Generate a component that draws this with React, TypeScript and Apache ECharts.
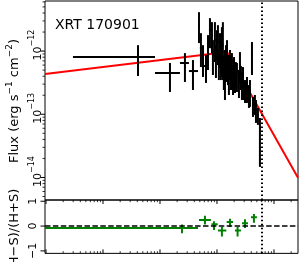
import React, { useEffect, useRef } from "react";
import * as echarts from "echarts";

const FONT = "DejaVu Sans";

// axis ranges
const TIME_MIN = 96;
const TIME_MAX = 2.64e6;
const FLUX_MIN = 4.4e-15;
const FLUX_MAX = 6.2e-12;
const HR_MIN = -1.1;
const HR_MAX = 1.05;

// flux values are stored in units of 1e-12 erg s^-1 cm^-2
const FLUX_UNIT = 1e-12;

const fluxTime = [
  4110, 14960, 27400, 37900,
  48300, 52300, 56800, 64100, 69500, 75300, 81600, 84900, 92000, 95900,
  100000, 104000, 108000, 113000, 117000, 122000, 127000, 132000, 138000, 144000,
  150000, 156000, 162000, 169000, 176000, 183000, 191000, 199000, 207000, 215000,
  224000, 243000, 253000, 263000, 274000, 286000, 310000, 336000, 364000, 379000,
  411000, 428000, 463000, 483000, 523000, 567000,
];
const fluxTimeLo = [
  297, 8170, 22400, 32200,
  46400, 50200, 54500, 57000, 67000, 72300, 78300, 82000, 88500, 93000,
  96000, 100000, 104000, 109000, 113000, 118000, 123000, 128000, 133000, 139000,
  145000, 151000, 157000, 163000, 170000, 177000, 185000, 192000, 200000, 208000,
  216000, 234000, 244000, 254000, 265000, 276000, 298000, 323000, 350000, 365000,
  396000, 412000, 446000, 465000, 504000, 546000,
];
const fluxTimeHi = [
  8170, 22400, 32200, 46400,
  50200, 54500, 59000, 72000, 72000, 78300, 84900, 88000, 95900, 99000,
  104000, 108000, 112000, 117000, 121000, 126000, 131000, 136000, 143000, 149000,
  155000, 161000, 167000, 175000, 182000, 189000, 197000, 206000, 214000, 222000,
  232000, 252000, 262000, 272000, 283000, 296000, 322000, 349000, 378000, 393000,
  426000, 444000, 480000, 501000, 542000, 588000,
];
const fluxVal = [
  0.804, 0.45, 0.647, 0.483,
  2.57, 1.11, 0.776, 0.58, 1.04, 2.14, 1.79, 0.865, 1.49, 0.776,
  1.34, 1.39, 0.647, 1.11, 0.804, 1.11, 1.24, 0.501, 0.466, 0.721,
  0.865, 0.559, 0.418, 0.67, 0.466, 0.559, 0.375, 0.539, 0.375, 0.45,
  0.418, 0.324, 0.601, 0.389, 0.313, 0.348, 0.242, 0.261, 0.202, 0.225,
  0.865, 0.14, 0.151, 0.117, 0.0977, 0.0609,
];
const fluxHi = [
  1.24, 0.647, 0.93, 0.721,
  4.13, 1.92, 1.24, 0.865, 1.79, 3.32, 2.87, 1.49, 2.87, 1.24,
  2.14, 2.57, 1.04, 1.92, 1.49, 2.39, 2.87, 0.865, 1.04, 1.24,
  1.49, 0.865, 0.721, 1.04, 0.776, 0.93, 0.601, 0.804, 0.539, 0.67,
  0.647, 0.501, 0.964, 0.58, 0.466, 0.559, 0.348, 0.389, 0.29, 0.348,
  1.39, 0.188, 0.202, 0.168, 0.126, 0.0875,
];
const fluxLo = [
  0.403, 0.225, 0.324, 0.242,
  1.34, 0.559, 0.389, 0.313, 0.501, 1.11, 0.93, 0.418, 0.67, 0.375,
  0.721, 0.601, 0.348, 0.539, 0.348, 0.389, 0.348, 0.242, 0.168, 0.324,
  0.418, 0.29, 0.202, 0.348, 0.242, 0.27, 0.202, 0.313, 0.217, 0.242,
  0.225, 0.181, 0.324, 0.242, 0.168, 0.168, 0.151, 0.151, 0.126, 0.131,
  0.418, 0.0908, 0.0977, 0.073, 0.0679, 0.0147,
];

// broken power-law model (time, flux)
const modelTime = [96, 150000, 2640000];
const modelFlux = [4.34e-13, 9.64e-13, 9.9e-15];

// end of the window (dotted line)
const windowEnd = 615000;

// hardness ratio
const hrTime = [24300, 61500, 88500, 122000, 169000, 230000, 310000, 445000];
const hrTimeLo = [90, 48300, 80000, 104000, 148000, 207000, 275000, 395000];
const hrTimeHi = [46400, 78300, 103000, 146000, 191000, 263000, 350000, 502000];
const hrVal = [-0.08, 0.24, 0.07, -0.18, 0.16, -0.18, 0.11, 0.36];
const hrLo = [-0.29, 0.06, -0.16, -0.42, -0.04, -0.42, -0.08, 0.13];
const hrHi = [0.06, 0.42, 0.19, -0.04, 0.29, -0.04, 0.27, 0.49];

const hrTickValues = [-1, 0, 1];
const panelLabel = "XRT 170901";

function logTicks(lo: number, hi: number): number[][] {
  const out: number[][] = [];
  for (let e = Math.floor(Math.log10(lo)); e <= Math.ceil(Math.log10(hi)); e++) {
    for (let k = 1; k <= 9; k++) {
      const v = k * Math.pow(10, e);
      if (v >= lo && v <= hi) out.push([v, k === 1 ? 1 : 0]);
    }
  }
  return out;
}

const errRender = (color: string, width: number) => (params: any, api: any) => {
  const p = api.coord([api.value(0), api.value(1)]);
  const xl = api.coord([api.value(2), api.value(1)]);
  const xh = api.coord([api.value(3), api.value(1)]);
  const yl = api.coord([api.value(0), api.value(4)]);
  const yh = api.coord([api.value(0), api.value(5)]);
  return {
    type: "group",
    children: [
      { type: "line", shape: { x1: xl[0], y1: p[1], x2: xh[0], y2: p[1] }, style: { stroke: color, lineWidth: width } },
      { type: "line", shape: { x1: p[0], y1: yl[1], x2: p[0], y2: yh[1] }, style: { stroke: color, lineWidth: width } },
    ],
  };
};

function buildOption(): any {
  const fluxData = fluxTime.map((t, i) => [
    t, fluxVal[i] * FLUX_UNIT, fluxTimeLo[i], fluxTimeHi[i], fluxLo[i] * FLUX_UNIT, fluxHi[i] * FLUX_UNIT,
  ]);
  const hrData = hrTime.map((t, i) => [t, hrVal[i], hrTimeLo[i], hrTimeHi[i], hrLo[i], hrHi[i]]);
  const modelData = modelTime.map((t, i) => [t, modelFlux[i]]);
  const yTicksTop = logTicks(FLUX_MIN, FLUX_MAX).map(([v, m]) => [TIME_MIN, v, m]);
  const xTicksBottom = logTicks(TIME_MIN, TIME_MAX).map(([v, m]) => [v, 0, m]);
  const yTicksBottom = hrTickValues.map((v) => [TIME_MIN, v, 1]);

  const hidden = { show: false };
  return {
    animation: false,
    grid: [
      { left: 45, top: 1, width: 253, height: 199, show: true, borderColor: "#000", borderWidth: 1 },
      { left: 45, top: 200, width: 253, height: 61, show: true, borderColor: "#000", borderWidth: 1 },
    ],
    xAxis: [
      { type: "log", gridIndex: 0, min: TIME_MIN, max: TIME_MAX, axisLine: hidden, axisTick: hidden, axisLabel: hidden, splitLine: hidden },
      { type: "log", gridIndex: 1, min: TIME_MIN, max: TIME_MAX, axisLine: hidden, axisTick: hidden, axisLabel: hidden, splitLine: hidden },
    ],
    yAxis: [
      {
        type: "log", gridIndex: 0, min: FLUX_MIN, max: FLUX_MAX,
        axisLine: hidden, axisTick: hidden, splitLine: hidden,
        axisLabel: {
          rotate: 90, margin: 2.5, showMinLabel: false, showMaxLabel: false,
          padding: [0, 0, 0, 12],
          formatter: (v: number) => {
            const e = Math.round(Math.log10(v));
            return "{b|10}{s|\u2212" + Math.abs(e) + "}";
          },
          rich: {
            b: { fontFamily: FONT, fontSize: 11, color: "#000", lineHeight: 10, verticalAlign: "bottom" },
            s: { fontFamily: FONT, fontSize: 8, color: "#000", lineHeight: 15, verticalAlign: "top" },
          },
        },
      },
      {
        type: "value", gridIndex: 1, min: HR_MIN, max: HR_MAX,
        axisLine: hidden, axisTick: hidden, splitLine: hidden,
        axisLabel: {
          rotate: 90, margin: 5.5, showMinLabel: false, showMaxLabel: false,
          formatter: (v: number) => {
            if (Math.abs(v - Math.round(v)) > 1e-9) return "";
            const r = Math.round(v);
            return "{b|" + (r < 0 ? "\u2212" + -r : String(r)) + "}";
          },
          rich: { b: { fontFamily: FONT, fontSize: 11, color: "#000", lineHeight: 14 } },
        },
      },
    ],
    graphic: [
      {
        type: "text", x: 55, y: 24,
        style: { text: panelLabel, fontFamily: FONT, fontSize: 14, fill: "#000", align: "left", verticalAlign: "middle" },
      },
      {
        type: "text", x: 12.25, y: 101, rotation: Math.PI / 2,
        style: {
          text: "{b|Flux (erg s}{s|\u22121}{b| cm}{s|\u22122}{b|)}",
          align: "center", verticalAlign: "middle",
          rich: {
            b: { fontFamily: FONT, fontSize: 13, fill: "#000", lineHeight: 13, verticalAlign: "bottom" },
            s: { fontFamily: FONT, fontSize: 9, fill: "#000", lineHeight: 15.5, verticalAlign: "top" },
          },
        },
      },
      {
        type: "text", x: 13.5, y: 230, rotation: Math.PI / 2,
        style: { text: "(H\u2212S)/(H+S)", fontFamily: FONT, fontSize: 13, fill: "#000", align: "center", verticalAlign: "middle" },
      },
    ],
    series: [
      {
        type: "line", xAxisIndex: 0, yAxisIndex: 0, data: modelData, showSymbol: false, symbol: "none",
        lineStyle: { color: "#ff0000", width: 2 }, z: 1, silent: true,
        markLine: {
          silent: true, symbol: "none", label: { show: false },
          lineStyle: { color: "#000", type: [1.5, 2.5], width: 2 },
          data: [{ xAxis: windowEnd }],
        },
      },
      {
        type: "custom", xAxisIndex: 0, yAxisIndex: 0, data: fluxData, encode: { x: 0, y: 1 },
        renderItem: errRender("#000", 2), clip: true, z: 2, silent: true,
      },
      {
        type: "line", xAxisIndex: 1, yAxisIndex: 1, data: [], z: 1, silent: true,
        markLine: {
          silent: true, symbol: "none", label: { show: false },
          data: [
            { yAxis: 0, lineStyle: { color: "#000", type: [5.5, 2.4], width: 1.6 } },
            { xAxis: windowEnd, lineStyle: { color: "#000", type: [1.5, 2.5], width: 2 } },
          ],
        },
      },
      {
        type: "custom", xAxisIndex: 1, yAxisIndex: 1, data: hrData, encode: { x: 0, y: 1 },
        renderItem: errRender("#008000", 2), clip: true, z: 3, silent: true,
      },
      {
        type: "custom", xAxisIndex: 0, yAxisIndex: 0, data: yTicksTop, encode: { x: 0, y: 1 }, silent: true, z: 5,
        renderItem: (params: any, api: any) => {
          const cs = params.coordSys;
          const y = api.coord([api.value(0), api.value(1)])[1];
          const major = api.value(2) === 1;
          const len = major ? 4.5 : 2.5;
          return { type: "line", shape: { x1: cs.x - len, y1: y, x2: cs.x, y2: y }, style: { stroke: "#000", lineWidth: major ? 1 : 0.8 } };
        },
      },
      {
        type: "custom", xAxisIndex: 1, yAxisIndex: 1, data: xTicksBottom, encode: { x: 0, y: 1 }, silent: true, z: 5,
        renderItem: (params: any, api: any) => {
          const cs = params.coordSys;
          const x = api.coord([api.value(0), api.value(1)])[0];
          const major = api.value(2) === 1;
          const len = major ? 4 : 2.2;
          const st = { stroke: "#000", lineWidth: major ? 1 : 0.8 };
          return {
            type: "group",
            children: [
              { type: "line", shape: { x1: x, y1: cs.y, x2: x, y2: cs.y + len }, style: st },
              { type: "line", shape: { x1: x, y1: cs.y + cs.height, x2: x, y2: cs.y + cs.height - len }, style: st },
            ],
          };
        },
      },
      {
        type: "custom", xAxisIndex: 1, yAxisIndex: 1, data: yTicksBottom, encode: { x: 0, y: 1 }, silent: true, z: 5,
        renderItem: (params: any, api: any) => {
          const cs = params.coordSys;
          const y = api.coord([api.value(0), api.value(1)])[1];
          return { type: "line", shape: { x1: cs.x - 4.5, y1: y, x2: cs.x, y2: y }, style: { stroke: "#000", lineWidth: 1 } };
        },
      },
    ],
  };
}

export default function App() {
  const ref = useRef<HTMLDivElement>(null);
  useEffect(() => {
    if (!ref.current) return;
    const chart = echarts.init(ref.current, null, { renderer: "svg" });
    chart.setOption(buildOption());
    return () => chart.dispose();
  }, []);
  return <div ref={ref} style={{ position: "fixed", left: 0, top: 0, width: 299, height: 262 }} />;
}
